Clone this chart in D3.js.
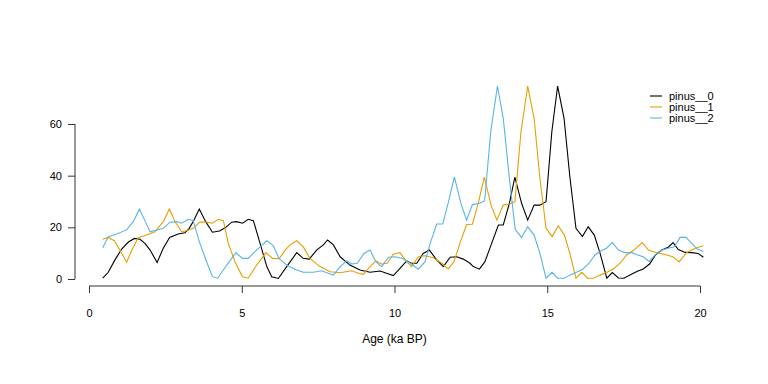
<!DOCTYPE html>
<html>
<head>
<meta charset="utf-8">
<script src="https://cdn.jsdelivr.net/npm/d3@7"></script>
<style>
  body { margin: 0; background: white; }
  text { font-family: "Liberation Sans", Arial, sans-serif; font-size: 11px; fill: black; }
</style>
</head>
<body>
<div id="chart"></div>
<script>
// ages (ka BP) and values, one pair of arrays per series
const age0 = [0.45,0.63,0.85,1.07,1.29,1.49,1.67,1.83,2.0,2.23,2.43,2.64,2.92,3.14,3.27,3.41,3.61,3.82,4.04,4.27,4.47,4.67,4.83,5.03,5.21,5.38,5.6,5.82,5.98,6.2,6.47,6.8,7.01,7.21,7.45,7.67,7.81,8.0,8.22,8.54,8.87,9.2,9.53,9.74,9.96,10.18,10.4,10.56,10.73,10.94,11.14,11.38,11.6,11.82,12.04,12.25,12.47,12.58,12.78,12.96,13.18,13.4,13.56,13.76,13.94,14.16,14.36,14.57,14.76,14.96,15.15,15.34,15.55,15.74,15.94,16.15,16.34,16.54,16.73,16.95,17.13,17.33,17.51,17.74,17.95,18.14,18.35,18.54,18.75,18.96,19.12,19.29,19.51,19.73,19.94,20.11];
const pinus0 = [0.3,2.6,7.4,11.6,14.3,15.7,15.4,13.8,11.2,6.4,11.9,16.1,17.4,17.9,19.4,22.2,27.1,22.2,18.1,18.6,19.9,22.0,22.2,21.6,23.1,22.6,13.8,4.8,0.9,0.2,4.8,10.2,8.0,7.7,11.2,13.2,15.1,13.2,8.6,5.4,3.5,2.6,3.1,2.2,1.3,4.1,7.0,6.1,6.1,9.9,11.2,7.4,4.8,8.4,8.6,7.7,6.1,4.8,3.8,6.7,13.8,20.9,20.9,29.3,39.4,29.3,22.8,28.6,28.6,29.9,57.0,74.7,62.2,39.6,19.6,16.4,20.2,17.0,9.9,0.3,2.5,0.4,0.3,1.7,3.0,3.9,5.8,9.3,11.2,12.3,14.1,11.4,10.3,10.2,9.9,8.4];

const age1 = [0.45,0.63,0.83,1.01,1.23,1.43,1.61,1.89,2.16,2.43,2.63,2.82,3.03,3.22,3.41,3.63,3.85,4.04,4.23,4.4,4.56,4.78,5.02,5.21,5.49,5.79,6.01,6.23,6.42,6.58,6.8,7.01,7.23,7.56,7.89,8.22,8.6,8.82,8.98,9.2,9.39,9.58,9.76,9.96,10.18,10.38,10.56,10.78,11.0,11.27,11.55,11.76,11.95,12.14,12.36,12.55,12.74,12.94,13.16,13.35,13.56,13.76,13.94,14.14,14.36,14.57,14.76,14.96,15.16,15.36,15.56,15.74,15.94,16.13,16.32,16.51,16.73,16.95,17.16,17.38,17.6,17.82,18.11,18.31,18.58,18.91,19.11,19.32,19.56,19.84,20.11];
const pinus1 = [15.4,16.1,14.8,11.2,6.5,11.9,16.0,17.0,18.3,22.2,27.1,22.2,18.3,18.8,19.6,22.0,22.0,21.6,23.1,22.5,13.8,6.7,0.9,0.3,5.4,10.2,8.0,7.9,11.2,13.2,14.8,12.5,8.0,4.8,2.8,2.4,3.2,2.2,1.8,4.8,7.0,5.8,6.1,9.6,10.2,7.0,4.8,8.6,9.0,8.2,6.1,3.9,6.7,13.8,21.1,21.2,29.3,39.4,28.6,22.8,28.6,29.0,29.9,57.0,74.7,62.2,39.0,19.6,16.4,20.6,17.0,9.9,0.3,2.6,0.3,0.3,1.5,2.6,3.8,6.1,9.3,11.0,14.1,11.2,10.2,9.3,8.6,6.7,10.2,11.9,12.9];

const age2 = [0.45,0.63,0.91,1.23,1.45,1.65,1.83,2.0,2.22,2.43,2.65,2.87,3.03,3.25,3.41,3.63,3.85,4.04,4.21,4.51,4.81,5.02,5.21,5.43,5.65,5.82,6.03,6.22,6.47,6.74,7.01,7.34,7.62,7.83,8.0,8.22,8.44,8.6,8.78,9.0,9.2,9.39,9.58,9.8,10.02,10.24,10.45,10.6,10.78,11.0,11.16,11.38,11.58,11.76,11.96,12.18,12.36,12.55,12.76,12.95,13.15,13.37,13.56,13.76,13.95,14.16,14.36,14.57,14.76,14.96,15.16,15.34,15.55,15.74,15.96,16.16,16.37,16.56,16.78,16.94,17.13,17.33,17.54,17.76,17.96,18.14,18.34,18.53,18.75,18.96,19.16,19.35,19.54,19.73,19.91,20.11];
const pinus2 = [12.1,16.4,17.4,19.0,22.2,27.1,22.6,18.3,19.0,19.6,22.0,22.2,21.6,23.1,22.6,13.8,6.7,0.9,0.3,5.4,10.2,8.0,8.0,10.6,12.9,14.8,12.9,8.0,5.4,3.8,2.6,2.6,3.2,2.2,1.5,4.8,7.0,5.8,6.1,9.9,11.2,6.7,4.8,8.4,8.6,8.0,6.7,5.4,3.8,6.7,13.5,21.3,21.3,29.6,39.5,29.0,22.8,28.8,29.2,30.2,57.0,74.7,62.2,39.0,19.2,16.1,20.2,17.0,9.9,0.3,2.6,0.3,0.3,1.5,2.6,3.8,6.1,9.3,11.0,11.9,14.1,11.2,10.2,10.2,9.3,8.6,6.7,9.3,11.2,11.9,12.5,16.1,16.1,13.8,11.6,10.6];

const seriesNames = ["pinus__0", "pinus__1", "pinus__2"];
const seriesColors = ["black", "#E69F00", "#56B4E9"];
const xTicks = [0, 5, 10, 15, 20];
const yTicks = [0, 20, 40, 60];

const width = 768;
const height = 384;
const svg = d3.select("#chart")
  .append("svg")
  .attr("width", width)
  .attr("height", height);

const x = d3.scaleLinear().domain([0, 20]).range([89, 700]);
const y = d3.scaleLinear().domain([0, 60]).range([279, 124]);

// x axis, R style: line only between first and last tick
const xAxis = svg.append("g")
  .attr("transform", "translate(0,286)")
  .call(d3.axisBottom(x).tickValues(xTicks).tickSize(7).tickPadding(16).tickSizeOuter(0));
xAxis.select(".domain").attr("d", "M" + x(0) + ",0H" + x(20)).attr("stroke", "#333");
xAxis.selectAll(".tick line").attr("stroke", "#333");
xAxis.selectAll("text").attr("font-size", 11).attr("font-family", "Liberation Sans, Arial, sans-serif");

const yAxis = svg.append("g")
  .attr("transform", "translate(75,0)")
  .call(d3.axisLeft(y).tickValues(yTicks).tickSize(7).tickPadding(6).tickSizeOuter(0));
yAxis.select(".domain").attr("d", "M0," + y(0) + "V" + y(60)).attr("stroke", "#333");
yAxis.selectAll(".tick line").attr("stroke", "#333");
yAxis.selectAll("text").attr("font-size", 11).attr("font-family", "Liberation Sans, Arial, sans-serif");

svg.append("text")
  .attr("x", x(10))
  .attr("y", 343)
  .attr("text-anchor", "middle")
  .style("font-size", "12px")
  .text("Age (ka BP)");

const line = d3.line()
  .x(function(d) { return x(d[0]); })
  .y(function(d) { return y(d[1]); });

const allSeries = [
  d3.zip(age0, pinus0),
  d3.zip(age1, pinus1),
  d3.zip(age2, pinus2)
];

svg.selectAll("path.series")
  .data(allSeries)
  .enter()
  .append("path")
    .attr("class", "series")
    .attr("d", line)
    .attr("fill", "none")
    .attr("stroke", function(d, i) { return seriesColors[i]; })
    .attr("stroke-width", 1.1);

// legend, top right, no box
const legend = svg.selectAll("g.legend")
  .data(seriesNames)
  .enter()
  .append("g")
    .attr("class", "legend")
    .attr("transform", function(d, i) { return "translate(650," + (96 + i * 11) + ")"; });

legend.append("line")
  .attr("x1", 0).attr("x2", 12)
  .attr("y1", 0).attr("y2", 0)
  .attr("stroke", function(d, i) { return seriesColors[i]; })
  .attr("stroke-width", 1.1);

legend.append("text")
  .attr("x", 19)
  .attr("y", 4)
  .style("font-size", "11px")
  .text(function(d) { return d; });
</script>
</body>
</html>
